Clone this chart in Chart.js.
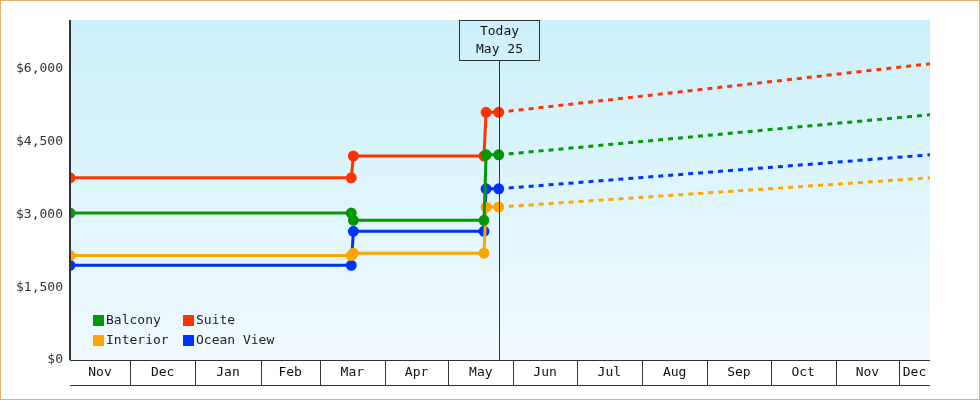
<!DOCTYPE html>
<html><head><meta charset="utf-8">
<script src="https://cdn.jsdelivr.net/npm/chart.js@4"></script>
<style>
html,body{margin:0;padding:0;background:#fff}
#wrap{position:absolute;left:0;top:0;width:978px;height:398px;border:1px solid #e8b070}
canvas{position:absolute;left:-1px;top:-1px}
</style></head><body>
<div id="wrap"><canvas id="c" width="980" height="400"></canvas></div>
<script>
// days counted from Nov 1
const monthLabels = ['Nov','Dec','Jan','Feb','Mar','Apr','May','Jun','Jul','Aug','Sep','Oct','Nov','Dec'];
const monthStarts = [0,30,61,92,120,151,181,212,242,273,304,334,365,395];
const xMin = 1.5, xMax = 409.7;
const todayDay = 205;
const seriesNames = ['Balcony','Suite','Interior','Ocean View'];
const seriesColors = ['#009900','#ff3300','#ffa500','#0033ff'];
const histDays = [1.5, 135, 136, 198, 199, 205];
const balconyHist = [3025, 3025, 2875, 2875, 4225, 4225];
const suiteHist = [3750, 3750, 4200, 4200, 5100, 5100];
const interiorHist = [2150, 2150, 2200, 2200, 3150, 3150];
const oceanHist = [1950, 1950, 2650, 2650, 3525, 3525];
const forecastDays = [205, 409.7];
const balconyFc = [4225, 5050];
const suiteFc = [5100, 6100];
const interiorFc = [3150, 3750];
const oceanFc = [3525, 4225];
const yTicks = [0,1500,3000,4500,6000];

const hist = [balconyHist, suiteHist, interiorHist, oceanHist];
const fc = [balconyFc, suiteFc, interiorFc, oceanFc];
const datasets = [];
hist.forEach((h,i)=>datasets.push({label:seriesNames[i],data:histDays.map((d,j)=>({x:d,y:h[j]})),borderColor:seriesColors[i],backgroundColor:seriesColors[i],borderWidth:3,pointRadius:4,pointStyle:'circle',pointHoverRadius:4,tension:0}));
fc.forEach((h,i)=>datasets.push({label:'fc'+i,data:forecastDays.map((d,j)=>({x:d,y:h[j]})),borderColor:seriesColors[i],borderWidth:3,borderDash:[5,5],pointRadius:0,tension:0}));
const FONT = '13px "DejaVu Sans Mono", monospace';

const deco = {
  id:'deco',
  beforeDraw(chart){
    const {ctx,chartArea:a}=chart;
    const g=ctx.createLinearGradient(0,a.top,0,a.bottom);
    g.addColorStop(0,'#ccf0fc');g.addColorStop(1,'#f0fafe');
    ctx.fillStyle=g;ctx.fillRect(a.left,a.top,a.right-a.left,a.bottom-a.top);
  },
  afterDraw(chart){
    const {ctx,chartArea:a,scales:{x}}=chart;
    ctx.save();
    ctx.strokeStyle='#333';ctx.lineWidth=1;
    ctx.beginPath();ctx.moveTo(a.left,a.bottom+0.5);ctx.lineTo(a.right,a.bottom+0.5);
    ctx.moveTo(a.left,a.bottom+25.5);ctx.lineTo(a.right,a.bottom+25.5);
    monthStarts.forEach(d=>{if(d>xMin){const px=Math.round(x.getPixelForValue(d))+0.5;ctx.moveTo(px,a.bottom);ctx.lineTo(px,a.bottom+25);}});
    ctx.stroke();
    ctx.fillStyle='#111';ctx.font=FONT;ctx.textAlign='center';ctx.textBaseline='middle';
    monthLabels.forEach((m,i)=>{
      const s=Math.max(monthStarts[i],xMin);
      const e=Math.min(i+1<monthStarts.length?monthStarts[i+1]:xMax,xMax);
      ctx.fillText(m,(x.getPixelForValue(s)+x.getPixelForValue(e))/2,a.bottom+13);
    });
    const tx=Math.round(x.getPixelForValue(todayDay))+0.5;
    ctx.beginPath();ctx.moveTo(tx,a.top+40);ctx.lineTo(tx,a.bottom);ctx.stroke();
    ctx.strokeRect(tx-40,a.top+0.5,80,40);
    ctx.fillText('Today',tx,a.top+12);ctx.fillText('May 25',tx,a.top+30);
    const lg=[[0,94,320],[1,184,320],[2,94,340],[3,184,340]];
    ctx.textAlign='left';
    lg.forEach(([i,lx,ly])=>{ctx.fillStyle=seriesColors[i];ctx.fillRect(lx-1,ly-5,11,11);ctx.fillStyle='#222';ctx.fillText(seriesNames[i],lx+12,ly+1);});
    ctx.lineWidth=2;ctx.beginPath();ctx.moveTo(a.left,a.top);ctx.lineTo(a.left,a.bottom);ctx.stroke();
    ctx.restore();
  }
};

new Chart(document.getElementById('c'),{
  type:'line',
  data:{datasets},
  options:{
    responsive:false,animation:false,
    layout:{padding:{left:0,top:20,right:50,bottom:40}},
    plugins:{legend:{display:false},tooltip:{enabled:false}},
    scales:{
      x:{type:'linear',min:xMin,max:xMax,display:false},
      y:{min:0,max:7000,afterFit(s){s.width=70;},afterBuildTicks(s){s.ticks=yTicks.map(v=>({value:v}));},
         grid:{display:false,drawTicks:true,tickLength:5,tickColor:'#333',tickWidth:2},
         border:{display:false},
         ticks:{color:'#333',font:{family:'"DejaVu Sans Mono"',size:13},padding:2,callback:v=>'$'+v.toLocaleString('en-US')}}
    }
  },
  plugins:[deco]
});
</script></body></html>
